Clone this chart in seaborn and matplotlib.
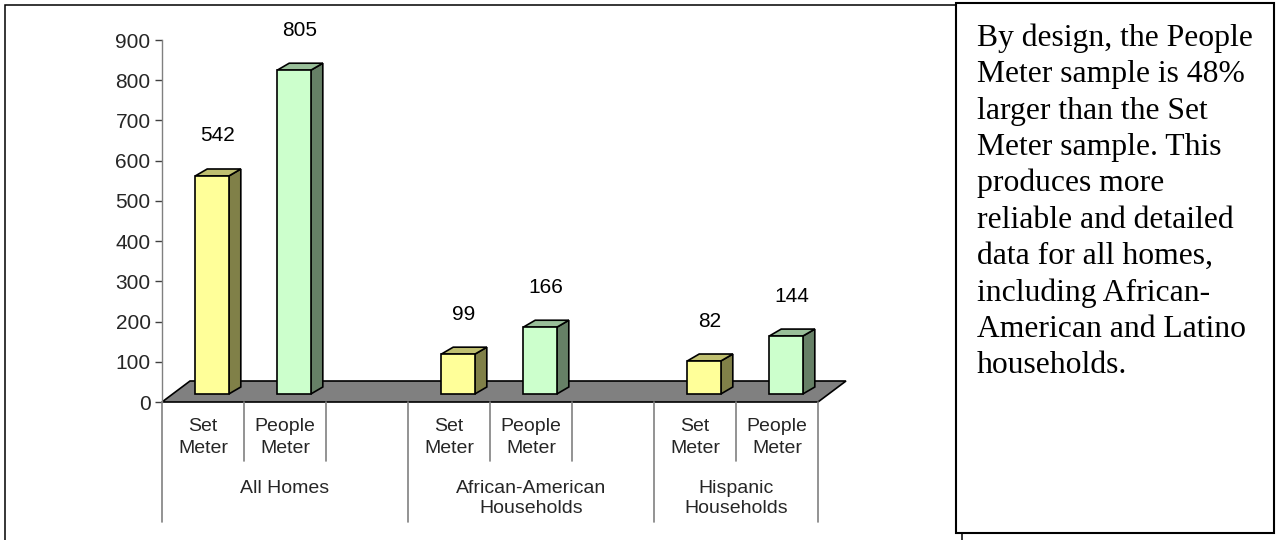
import numpy as np
import pandas as pd
import matplotlib
matplotlib.use("Agg")
import matplotlib.pyplot as plt
import matplotlib.transforms as mtransforms
from matplotlib.patches import Polygon, Rectangle
from matplotlib.lines import Line2D
import seaborn as sns

# ---- data -------------------------------------------------------------
slots = ["s0", "s1", "s2", "s3", "s4", "s5", "s6", "s7"]
slot_labels = ["Set\nMeter", "People\nMeter", "",
               "Set\nMeter", "People\nMeter", "",
               "Set\nMeter", "People\nMeter"]
bar_slots = ["s0", "s1", "s3", "s4", "s6", "s7"]
meters = ["Set Meter", "People Meter", "Set Meter", "People Meter",
          "Set Meter", "People Meter"]
counts = [542, 805, 99, 166, 82, 144]
groups = ["All Homes", "African-American\nHouseholds", "Hispanic\nHouseholds"]
group_spans = [(0, 3), (3, 6), (6, 8)]
y_ticks = [0, 100, 200, 300, 400, 500, 600, 700, 800, 900]
note_lines = ["By design, the People",
              "Meter sample is 48%",
              "larger than the Set",
              "Meter sample. This",
              "produces more",
              "reliable and detailed",
              "data for all homes,",
              "including African-",
              "American and Latino",
              "households."]

df = pd.DataFrame({"slot": bar_slots, "meter": meters, "count": counts})
meter_of_slot = {slots.index(s): m for s, m in zip(bar_slots, meters)}

front = {"Set Meter": "#FFFF99", "People Meter": "#CCFFCC"}
side = {"Set Meter": "#808048", "People Meter": "#668066"}
top = {"Set Meter": "#BFBF70", "People Meter": "#99BF99"}

# ---- figure -----------------------------------------------------------
sns.set_style("white")
plt.rcParams["font.family"] = ["Liberation Sans", "DejaVu Sans"]

W, H, DPI = 1285, 540, 100
fig = plt.figure(figsize=(W / DPI, H / DPI), dpi=DPI)
fig.patch.set_facecolor("white")


def fx(px):
    return px / W


def fy(py):
    return 1 - py / H


# plot area: 0 at y=402 px, 900 at y=40 px, categories from x=162 to 818 px
ax = fig.add_axes([fx(162), fy(402), (818 - 162) / W, (402 - 40) / H])
ax.patch.set_alpha(0)

sns.barplot(data=df, x="slot", y="count", hue="meter", order=slots,
            hue_order=["Set Meter", "People Meter"], palette=front,
            saturation=1, dodge=False, width=0.41, errorbar=None,
            legend=False, edgecolor="black", linewidth=1.2, ax=ax, zorder=4)
ax.set_xlim(-0.5, 7.5)
ax.set_ylim(0, 900)

inv = ax.transData.inverted()


def px2data(dx, dy):
    a = inv.transform((0, 0))
    b = inv.transform((dx, dy))
    return b[0] - a[0], b[1] - a[1]


# bars stand a little inside the floor
shift = ax.transData + mtransforms.ScaledTranslation(9 / DPI, 8 / DPI,
                                                      fig.dpi_scale_trans)
ddx, ddy = px2data(12, 7)

bars = list(ax.patches)

# floor
fdx, fdy = px2data(28, 21)
floor = Polygon([(-0.5, 0), (7.5, 0), (7.5 + fdx, fdy), (-0.5 + fdx, fdy)],
                closed=True, facecolor="#808080", edgecolor="black",
                linewidth=1.2, zorder=2, clip_on=False)
ax.add_patch(floor)

for p in bars:
    p.set_transform(shift)
    p.set_clip_on(False)
    x0 = p.get_x()
    x1 = x0 + p.get_width()
    h = p.get_height()
    key = meter_of_slot[int(round((x0 + x1) / 2))]
    sface = Polygon([(x1, 0), (x1 + ddx, ddy), (x1 + ddx, h + ddy), (x1, h)],
                    closed=True, facecolor=side[key], edgecolor="black",
                    linewidth=1.2, transform=shift, zorder=3.5, clip_on=False)
    tface = Polygon([(x0, h), (x1, h), (x1 + ddx, h + ddy), (x0 + ddx, h + ddy)],
                    closed=True, facecolor=top[key], edgecolor="black",
                    linewidth=1.2, transform=shift, zorder=3.5, clip_on=False)
    ax.add_patch(sface)
    ax.add_patch(tface)
    ax.annotate(f"{int(round(h))}", xy=((x0 + x1) / 2, h), xycoords=shift,
                xytext=(6, 40), textcoords="offset pixels",
                ha="center", va="center", fontsize=15, color="black")

# axes styling
for s in ["top", "right", "bottom"]:
    ax.spines[s].set_visible(False)
ax.spines["left"].set_color("#808080")
ax.spines["left"].set_linewidth(1.0)
ax.set_yticks(y_ticks)
ax.set_yticklabels([str(v) for v in y_ticks])
ax.tick_params(axis="y", length=5, width=1, color="#404040", pad=3.2,
               labelsize=15, left=True)
ax.set_xticks(range(len(slots)))
ax.set_xticklabels(slot_labels, fontsize=14, linespacing=1.35)
ax.tick_params(axis="x", length=0, pad=11.5)
ax.set_xlabel("")
ax.set_ylabel("")

# category separators below the floor
blend = mtransforms.blended_transform_factory(ax.transData, fig.transFigure)
long_lines = [-0.5, 2.5, 5.5, 7.5]
short_lines = [0.5, 1.5, 3.5, 4.5, 6.5]
for xv in long_lines:
    fig.add_artist(Line2D([xv, xv], [fy(402), fy(522)], transform=blend,
                          color="#808080", linewidth=1.2))
for xv in short_lines:
    fig.add_artist(Line2D([xv, xv], [fy(402), fy(461)], transform=blend,
                          color="#808080", linewidth=1.2))

for name, (a, b) in zip(groups, group_spans):
    fig.text((a + b - 1) / 2, fy(480), name, transform=blend, fontsize=14,
             ha="center", va="top", linespacing=1.25)

# outer chart frame (its bottom runs off the canvas)
fig.add_artist(Rectangle((fx(5), fy(548)), fx(962) - fx(5), fy(5) - fy(548),
                         transform=fig.transFigure, facecolor="none",
                         edgecolor="black", linewidth=1.1, clip_on=False))

# note box
fig.add_artist(Rectangle((fx(956), fy(533)), fx(1274) - fx(956), fy(3) - fy(533),
                         transform=fig.transFigure, facecolor="white",
                         edgecolor="black", linewidth=1.5, zorder=5))
for i, line in enumerate(note_lines):
    fig.text(fx(977), fy(45.7 + i * 36.4), line, fontsize=22.8,
             family=["Liberation Serif", "DejaVu Serif"], ha="left",
             va="baseline", color="black", zorder=6)

fig.savefig("out.png", dpi=DPI)
